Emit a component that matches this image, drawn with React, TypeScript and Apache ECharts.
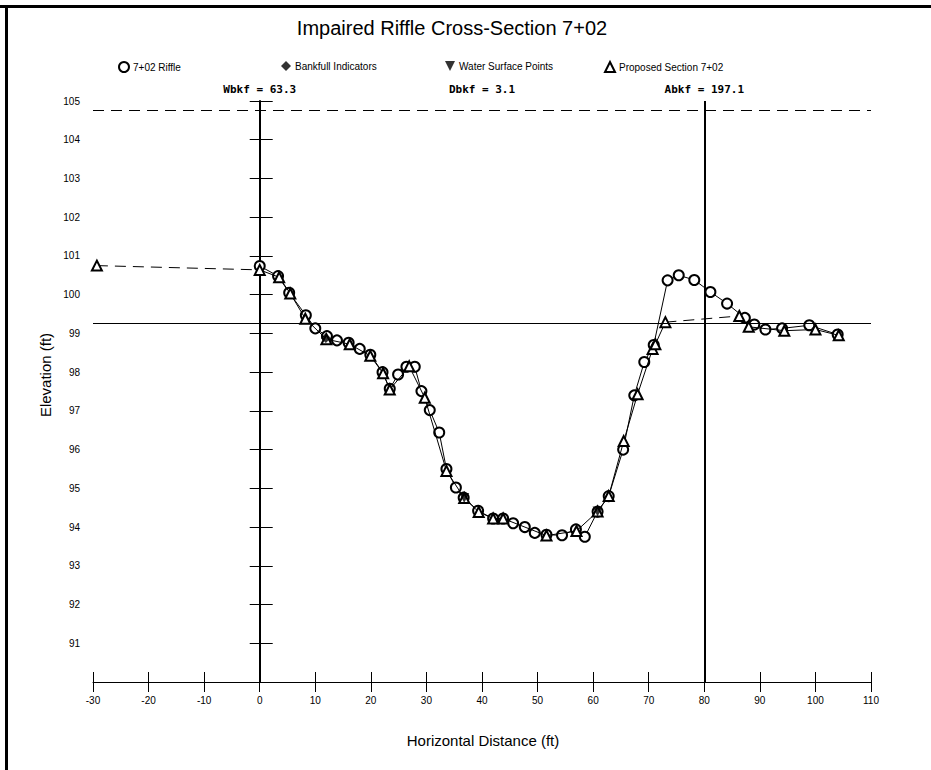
import React, { useEffect, useRef } from "react";
import * as echarts from "echarts";

const TITLE = "Impaired Riffle Cross-Section 7+02";
const X_TITLE = "Horizontal Distance (ft)";
const Y_TITLE = "Elevation (ft)";

const SERIES_NAMES = ["7+02 Riffle", "Bankfull Indicators", "Water Surface Points", "Proposed Section 7+02"];

// Existing riffle survey (circles)
const riffle: [number, number][] = [
  [0, 100.74], [3.3, 100.48], [5.3, 100.05], [8.3, 99.47], [10.0, 99.13], [12.1, 98.93],
  [13.9, 98.82], [16.0, 98.76], [18.0, 98.6], [19.9, 98.45], [22.1, 98.0], [23.4, 97.57],
  [24.9, 97.94], [26.4, 98.14], [27.9, 98.14], [29.1, 97.51], [30.6, 97.02], [32.3, 96.44],
  [33.6, 95.5], [35.3, 95.02], [36.7, 94.76], [39.3, 94.42], [42.0, 94.22], [43.8, 94.22],
  [45.6, 94.1], [47.7, 94.0], [49.5, 93.85], [51.6, 93.8], [54.4, 93.79], [56.9, 93.94],
  [58.5, 93.75], [60.8, 94.4], [62.8, 94.8], [65.4, 96.0], [67.4, 97.4], [69.2, 98.26],
  [70.9, 98.7], [73.4, 100.37], [75.4, 100.5], [78.2, 100.38], [81.1, 100.07], [84.1, 99.77],
  [87.3, 99.4], [89.0, 99.23], [91.0, 99.1], [94.0, 99.13], [98.9, 99.21], [104.0, 98.97],
];

// Proposed section (triangles)
const proposedLeft: [number, number][] = [[-29.3, 100.75]];
const proposedMain: [number, number][] = [
  [0, 100.64], [3.5, 100.45], [5.5, 100.03], [8.2, 99.38], [12.0, 98.85], [16.2, 98.72],
  [19.9, 98.42], [22.2, 97.97], [23.4, 97.55], [26.9, 98.15], [29.7, 97.34], [33.6, 95.45],
  [36.8, 94.75], [39.4, 94.39], [42.0, 94.22], [43.8, 94.22], [51.6, 93.78], [57.0, 93.9],
  [60.8, 94.4], [62.8, 94.8], [65.5, 96.22], [68.0, 97.43], [70.7, 98.6], [71.2, 98.72],
  [73.0, 99.29],
];
const proposedRight: [number, number][] = [
  [86.3, 99.45], [88.0, 99.17], [94.4, 99.07], [100.0, 99.1], [104.2, 98.95],
];

const bankfullIndicators: [number, number][] = [[11.9, 98.88]];
const waterSurfacePoints: [number, number][] = [[36.8, 94.75], [60.8, 94.4]];

const bankfullElevation = 99.26;
const floodproneElevation = 104.75;
const rightBankX = 80;

const annotations = [
  { text: "Wbkf = 63.3", at: 0 },
  { text: "Dbkf = 3.1", at: 40 },
  { text: "Abkf = 197.1", at: 80 },
];

const X_MIN = -30, X_MAX = 110, X_INT = 10;
const Y_MIN = 90, Y_MAX = 105, Y_INT = 1;

export default function App() {
  const ref = useRef<HTMLDivElement>(null);
  useEffect(() => {
    if (!ref.current) return;
    const chart = echarts.init(ref.current, undefined, { renderer: "svg" });
    const grid = { left: 93, right: 60, top: 101, bottom: 88 };
    const W = 931;
    const plotW = W - grid.left - grid.right;
    const xPix = (v: number) => grid.left + ((v - X_MIN) / (X_MAX - X_MIN)) * plotW;
    const font = "Liberation Sans, Arial, sans-serif";
    const labelStyle = { color: "#000", fontSize: 10, fontFamily: font };

    const proposedCommon = {
      name: SERIES_NAMES[3],
      type: "line",
      symbol: "emptyTriangle",
      symbolSize: 10,
      showAllSymbol: true,
      itemStyle: { color: "#000", borderColor: "#000", borderWidth: 0.8 },
      lineStyle: { color: "#000", width: 1 },
      z: 4,
    };

    const option: any = {
      animation: false,
      backgroundColor: "#fff",
      grid,
      xAxis: [
        {
          type: "value", min: X_MIN, max: X_MAX, interval: X_INT, position: "bottom",
          axisLine: { onZero: false, lineStyle: { color: "#000", width: 1 } },
          axisTick: { show: true, length: 10, lineStyle: { color: "#000" } },
          axisLabel: { ...labelStyle, margin: 13 },
          splitLine: { show: false },
        },
        {
          type: "value", min: X_MIN, max: X_MAX, interval: X_INT, position: "bottom",
          axisLine: { show: false, onZero: false },
          axisTick: { show: true, inside: true, length: 10, lineStyle: { color: "#000" } },
          axisLabel: { show: false },
          splitLine: { show: false },
        },
      ],
      yAxis: [
        {
          type: "value", min: Y_MIN, max: Y_MAX, interval: Y_INT, position: "left",
          axisLine: { show: true, onZero: true, onZeroAxisIndex: 0, lineStyle: { color: "#000", width: 2 } },
          axisTick: { show: true, length: 10, lineStyle: { color: "#000" } },
          axisLabel: { ...labelStyle, margin: 13, formatter: (v: number) => (v === Y_MIN ? "" : String(v)) },
          splitLine: { show: false },
        },
        {
          type: "value", min: Y_MIN, max: Y_MAX, interval: Y_INT, position: "left",
          axisLine: { show: false, onZero: true, onZeroAxisIndex: 0 },
          axisTick: { show: true, inside: true, length: 13, lineStyle: { color: "#000" } },
          axisLabel: { show: false },
          splitLine: { show: false },
        },
      ],
      legend: [
        { data: [{ name: SERIES_NAMES[0], icon: "emptyCircle" }], left: 118, top: 61 },
        { data: [{ name: SERIES_NAMES[1], icon: "diamond" }], left: 281, top: 61 },
        { data: [{ name: SERIES_NAMES[2], icon: "path://M0,0 L10,0 L5,10 Z" }], left: 445, top: 61 },
        { data: [{ name: SERIES_NAMES[3], icon: "emptyTriangle" }], left: 604, top: 61 },
      ].map((l) => ({
        ...l,
        itemWidth: 10,
        itemHeight: 10,
        itemGap: 4,
        selectedMode: false,
        padding: 0,
        itemStyle: { borderWidth: 0.8 },
        textStyle: { color: "#000", fontSize: 10, fontFamily: font, padding: [0, 0, 0, -1] },
      })),
      graphic: [
        { type: "rect", shape: { x: 0, y: 5, width: 931, height: 3 }, style: { fill: "#000" }, silent: true },
        { type: "rect", shape: { x: 5, y: 5, width: 3, height: 765 }, style: { fill: "#000" }, silent: true },
        {
          type: "text", x: 452, y: 28,
          style: { text: TITLE, fill: "#000", font: `20px ${font}`, textAlign: "center", textVerticalAlign: "middle" },
        },
        {
          type: "text", x: 483, y: 740,
          style: { text: X_TITLE, fill: "#000", font: `15px ${font}`, textAlign: "center", textVerticalAlign: "middle" },
        },
        {
          type: "text", x: 45, y: 375, rotation: Math.PI / 2,
          style: { text: Y_TITLE, fill: "#000", font: `15px ${font}`, textAlign: "center", textVerticalAlign: "middle" },
        },
        ...annotations.map((a) => ({
          type: "text", x: xPix(a.at), y: 89,
          style: {
            text: a.text, fill: "#000",
            font: "bold 11px 'DejaVu Sans Mono', 'Liberation Mono', monospace",
            textAlign: "center", textVerticalAlign: "middle",
          },
        })),
      ],
      series: [
        {
          name: SERIES_NAMES[0],
          type: "line",
          data: riffle,
          symbol: "emptyCircle",
          symbolSize: 10,
          showAllSymbol: true,
          itemStyle: { color: "#000", borderColor: "#000", borderWidth: 0.8 },
          lineStyle: { color: "#000", width: 1 },
          z: 3,
          markLine: {
            silent: true,
            symbol: "none",
            label: { show: false },
            data: [
              { yAxis: bankfullElevation, lineStyle: { color: "#000", width: 1, type: "solid" } },
              { yAxis: floodproneElevation, lineStyle: { color: "#000", width: 1, type: [11, 7] } },
              { xAxis: rightBankX, lineStyle: { color: "#000", width: 2, type: "solid" } },
            ],
          },
        },
        { ...proposedCommon, data: proposedLeft },
        { ...proposedCommon, data: proposedMain },
        { ...proposedCommon, data: proposedRight },
        {
          type: "line",
          data: [proposedLeft[proposedLeft.length - 1], proposedMain[0]],
          symbol: "none",
          lineStyle: { color: "#000", width: 1, type: [11, 7] },
          z: 2,
        },
        {
          type: "line",
          data: [proposedMain[proposedMain.length - 1], proposedRight[0]],
          symbol: "none",
          lineStyle: { color: "#000", width: 1, type: [11, 7] },
          z: 2,
        },
        {
          name: SERIES_NAMES[1],
          type: "scatter",
          data: bankfullIndicators,
          symbol: "diamond",
          symbolSize: 10,
          itemStyle: { color: "#000" },
          z: 6,
        },
        {
          name: SERIES_NAMES[2],
          type: "scatter",
          data: waterSurfacePoints,
          symbol: "triangle",
          symbolRotate: 180,
          symbolSize: 10,
          itemStyle: { color: "#000" },
          z: 6,
        },
      ],
    };
    chart.setOption(option);
    return () => chart.dispose();
  }, []);
  return (
    <div
      ref={ref}
      style={{ position: "absolute", left: 0, top: 0, width: 931, height: 770, background: "#fff" }}
    />
  );
}
